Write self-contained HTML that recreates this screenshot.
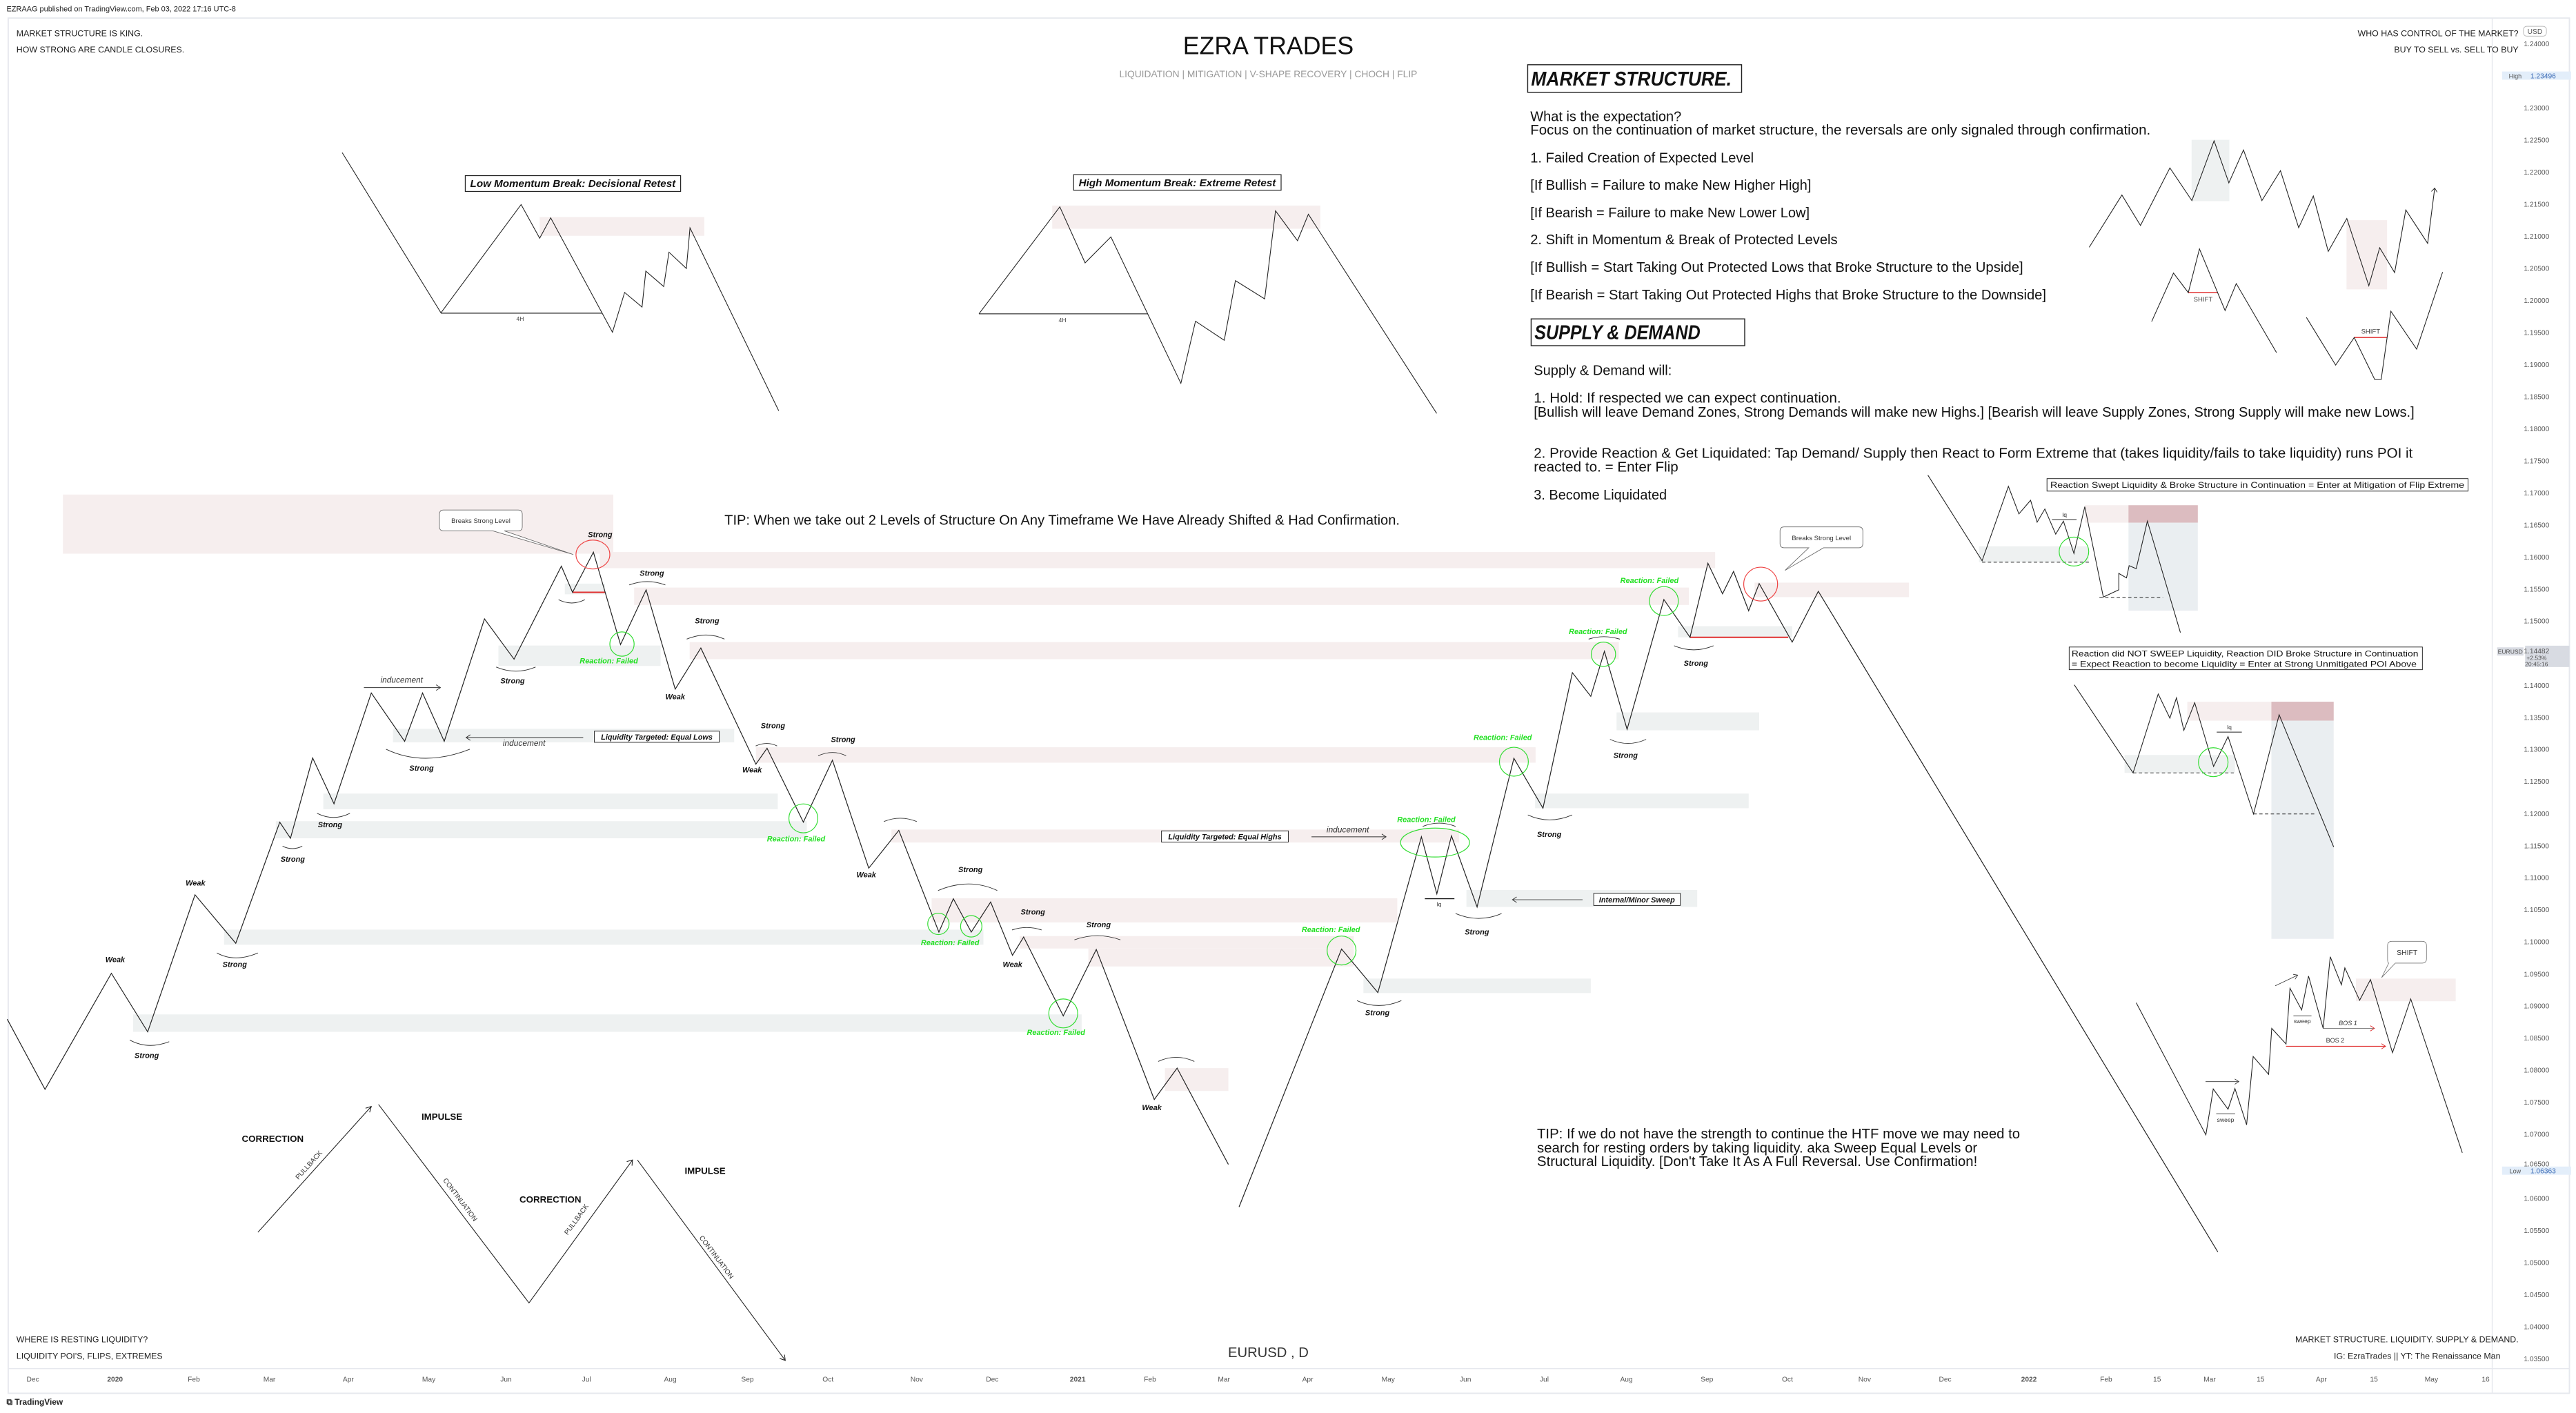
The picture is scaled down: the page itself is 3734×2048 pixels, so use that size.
<!DOCTYPE html>
<html><head><meta charset="utf-8"><style>
html,body{margin:0;padding:0;background:#fff;}
svg{display:block;}
text{font-family:"Liberation Sans",sans-serif;}
.s{font-size:4.6px;font-weight:bold;font-style:italic;fill:#111;text-anchor:middle;}
.g{font-size:4.6px;font-weight:bold;font-style:italic;fill:#22e022;text-anchor:middle;}
.ax{font-size:4.3px;fill:#555;}
.pa{font-size:4.3px;fill:#555;text-anchor:middle;}
.t{font-size:8.4px;fill:#111;}
</style></head><body>
<svg width="3734" height="2048" viewBox="0 0 1568 860" preserveAspectRatio="none" xmlns="http://www.w3.org/2000/svg">
<rect width="1568" height="860" fill="#fff"/>
<!-- frame -->
<text x="4" y="7" style="font-size:4.6px" fill="#222">EZRAAG published on TradingView.com, Feb 03, 2022 17:16 UTC-8</text>
<rect x="5" y="11" width="1559" height="837" fill="none" stroke="#e6e8ee" stroke-width="0.8"/>
<line x1="1517" y1="11" x2="1517" y2="848" stroke="#e6e8ee" stroke-width="0.6"/>
<line x1="5" y1="833" x2="1564" y2="833" stroke="#e6e8ee" stroke-width="0.6"/>

<text x="10" y="22" style="font-size:5.2px" fill="#222">MARKET STRUCTURE IS KING.</text>
<text x="10" y="32" style="font-size:5.2px" fill="#222">HOW STRONG ARE CANDLE CLOSURES.</text>
<text x="1533" y="22" style="font-size:5.2px" fill="#222" text-anchor="end">WHO HAS CONTROL OF THE MARKET?</text>
<text x="1533" y="32" style="font-size:5.2px" fill="#222" text-anchor="end">BUY TO SELL vs. SELL TO BUY</text>
<text x="10" y="817" style="font-size:5.2px" fill="#222">WHERE IS RESTING LIQUIDITY?</text>
<text x="10" y="827" style="font-size:5.2px" fill="#222">LIQUIDITY POI'S, FLIPS, EXTREMES</text>
<text x="1533" y="817" style="font-size:5.2px" fill="#222" text-anchor="end">MARKET STRUCTURE. LIQUIDITY. SUPPLY &amp; DEMAND.</text>
<text x="1522" y="827" style="font-size:5.2px" fill="#222" text-anchor="end">IG: EzraTrades || YT: The Renaissance Man</text>
<text x="772" y="826" style="font-size:8.5px" fill="#333" text-anchor="middle">EURUSD , D</text>
<text x="772" y="33" style="font-size:15px" fill="#111" text-anchor="middle">EZRA TRADES</text>
<text x="772" y="47" style="font-size:5.8px" fill="#999" text-anchor="middle">LIQUIDATION | MITIGATION | V-SHAPE RECOVERY | CHOCH | FLIP</text>
<text x="4" y="855" style="font-size:5px;font-weight:bold" fill="#222">⧉ TradingView</text>

<!-- time axis -->
<g class="ax" text-anchor="middle">
<text x="20" y="841">Dec</text><text x="70" y="841" font-weight="bold">2020</text><text x="118" y="841">Feb</text><text x="164" y="841">Mar</text><text x="212" y="841">Apr</text><text x="261" y="841">May</text><text x="308" y="841">Jun</text><text x="357" y="841">Jul</text><text x="408" y="841">Aug</text><text x="455" y="841">Sep</text><text x="504" y="841">Oct</text><text x="558" y="841">Nov</text><text x="604" y="841">Dec</text><text x="656" y="841" font-weight="bold">2021</text><text x="700" y="841">Feb</text><text x="745" y="841">Mar</text><text x="796" y="841">Apr</text><text x="845" y="841">May</text><text x="892" y="841">Jun</text><text x="940" y="841">Jul</text><text x="990" y="841">Aug</text><text x="1039" y="841">Sep</text><text x="1088" y="841">Oct</text><text x="1135" y="841">Nov</text><text x="1184" y="841">Dec</text><text x="1235" y="841" font-weight="bold">2022</text><text x="1282" y="841">Feb</text><text x="1313" y="841">15</text><text x="1345" y="841">Mar</text><text x="1376" y="841">15</text><text x="1413" y="841">Apr</text><text x="1445" y="841">15</text><text x="1480" y="841">May</text><text x="1513" y="841">16</text>
</g>

<!-- price axis -->
<g class="pa">
<rect x="1536" y="16" width="14" height="6" rx="2" fill="#fff" stroke="#bbb" stroke-width="0.4"/><text x="1543" y="20.5">USD</text>
<text x="1544" y="28.2">1.24000</text>
<rect x="1523" y="43.5" width="42" height="5" fill="#e3eefa"/><text x="1531" y="47.6" style="font-size:3.8px">High</text><text x="1548" y="47.6" fill="#3b6bb5">1.23496</text>
<text x="1544" y="67.2">1.23000</text><text x="1544" y="86.8">1.22500</text><text x="1544" y="106.3">1.22000</text><text x="1544" y="125.8">1.21500</text><text x="1544" y="145.3">1.21000</text><text x="1544" y="164.8">1.20500</text><text x="1544" y="184.3">1.20000</text><text x="1544" y="203.9">1.19500</text><text x="1544" y="223.4">1.19000</text><text x="1544" y="242.9">1.18500</text><text x="1544" y="262.4">1.18000</text><text x="1544" y="281.9">1.17500</text><text x="1544" y="301.5">1.17000</text><text x="1544" y="321">1.16500</text><text x="1544" y="340.5">1.16000</text><text x="1544" y="360">1.15500</text><text x="1544" y="379.5">1.15000</text>
<rect x="1520" y="394" width="16" height="5" fill="#d8dbe2"/><text x="1528" y="397.8" style="font-size:3.6px">EURUSD</text>
<rect x="1537" y="393" width="27" height="13" fill="#d8dbe2"/><text x="1544" y="397.6">1.14482</text><text x="1544" y="401.6" style="font-size:3.6px">+2.53%</text><text x="1544" y="405.4" style="font-size:3.6px">20:45:16</text>
<text x="1544" y="418.6">1.14000</text><text x="1544" y="438.1">1.13500</text><text x="1544" y="457.6">1.13000</text><text x="1544" y="477.1">1.12500</text><text x="1544" y="496.7">1.12000</text><text x="1544" y="516.2">1.11500</text><text x="1544" y="535.7">1.11000</text><text x="1544" y="555.2">1.10500</text><text x="1544" y="574.7">1.10000</text><text x="1544" y="594.3">1.09500</text><text x="1544" y="613.8">1.09000</text><text x="1544" y="633.3">1.08500</text><text x="1544" y="652.8">1.08000</text><text x="1544" y="672.3">1.07500</text><text x="1544" y="691.9">1.07000</text><text x="1544" y="709.8">1.06500</text>
<rect x="1523" y="710" width="42" height="5" fill="#e3eefa"/><text x="1531" y="714" style="font-size:3.8px">Low</text><text x="1548" y="714" fill="#3b6bb5">1.06363</text>
<text x="1544" y="730.9">1.06000</text><text x="1544" y="750.4">1.05500</text><text x="1544" y="769.9">1.05000</text><text x="1544" y="789.5">1.04500</text><text x="1544" y="809">1.04000</text><text x="1544" y="828.5">1.03500</text>
</g>

<!-- zones main -->
<g>
<rect x="38.3" y="301" width="335" height="36" fill="#f6eeee"/>
<rect x="365" y="336" width="679" height="9.8" fill="#f6eeee"/>
<rect x="386" y="357.6" width="642" height="10.6" fill="#f6eeee"/>
<rect x="1068" y="354.6" width="94" height="8.8" fill="#f6eeee"/>
<rect x="419.8" y="390.8" width="565.6" height="10.4" fill="#f6eeee"/>
<rect x="303.4" y="392.9" width="98.7" height="12.4" fill="#eef1f1"/>
<rect x="343.8" y="355.2" width="24.5" height="6.5" fill="#eef1f1"/>
<rect x="239.2" y="443.6" width="207.7" height="8.2" fill="#eef1f1"/>
<rect x="196.8" y="483" width="276.6" height="9.5" fill="#eef1f1"/>
<rect x="167.9" y="499.8" width="323.2" height="10.4" fill="#eef1f1"/>
<rect x="136.4" y="565.8" width="462.2" height="9.2" fill="#eef1f1"/>
<rect x="81" y="617.4" width="577.4" height="10.6" fill="#eef1f1"/>
<rect x="460.1" y="454.8" width="474.6" height="9.4" fill="#f6eeee"/>
<rect x="542.6" y="504.9" width="345.6" height="7.9" fill="#f6eeee"/>
<rect x="567.1" y="546.7" width="283.4" height="14.7" fill="#f6eeee"/>
<rect x="620.7" y="569.7" width="203.3" height="7.6" fill="#f6eeee"/>
<rect x="662.5" y="577.3" width="161.5" height="10.9" fill="#f6eeee"/>
<rect x="709.1" y="650.1" width="38.6" height="13.9" fill="#f6eeee"/>
<rect x="829.9" y="595.6" width="138.4" height="8.8" fill="#eef1f1"/>
<rect x="892.6" y="541.7" width="140.5" height="10.3" fill="#eef1f1"/>
<rect x="934.4" y="483" width="130" height="8.9" fill="#eef1f1"/>
<rect x="984" y="433.6" width="86.8" height="10.9" fill="#eef1f1"/>
<rect x="1021.4" y="381.1" width="69.5" height="6.8" fill="#eef1f1"/>
</g>
<line x1="348.5" y1="360.5" x2="368.3" y2="360.5" stroke="#e03030" stroke-width="0.8"/>
<line x1="1028.7" y1="387.9" x2="1088.5" y2="387.9" stroke="#e03030" stroke-width="0.8"/>

<!-- main line -->
<g fill="none" stroke="#222" stroke-width="0.5">
<polyline points="4.4,620.3 27.4,663 67.8,592.4 89.9,628 118.7,544.6 143.5,574.1 170.3,500.4 176.8,510.2 190.3,461.3 203.3,489.2 226,421.8 246.3,451.2 257.2,421.8 270.4,451.2 294.9,376.7 312.9,401.2 341.7,344.6 348.5,360.5 361.2,336.1 377.7,392.3 393.3,359 411,419.4 426.6,394.4 460.1,465.1 466.9,455.4 489,500.4 506.7,462.7 528.8,528.4 547.1,505.4 571.5,567.3 580.3,547 591.2,567.3 603,549 616.3,581.4 623.1,570.3 647.2,618.3 667.3,577.9 702.6,669.2 716.5,650.1 747.7,708.7"/>
<polyline points="754.2,734.6 816.6,577.6 838.7,604.1 865.2,509.3 874.6,544 883.5,508.7 899.1,552 921.5,461.5 939.2,491.9 957.1,409.4 968.3,423.8 976.6,396.4 990.4,443.9 1012.8,364.9 1028.7,387.9 1039.6,342.8 1048.5,361.4 1055.2,347.8 1064.4,371.7 1070.8,355.2 1090.9,390.8 1106.8,359.9 1350,762"/>
</g>

<!-- circles -->
<g fill="none" stroke-width="0.5">
<ellipse cx="378.6" cy="392" rx="7.4" ry="7.4" stroke="#33dd33"/>
<ellipse cx="360.9" cy="337.5" rx="10.3" ry="8.8" stroke="#ee4444"/>
<ellipse cx="489" cy="498.1" rx="8.8" ry="8.8" stroke="#33dd33"/>
<ellipse cx="571.2" cy="562.3" rx="6.5" ry="6.5" stroke="#33dd33"/>
<ellipse cx="591.2" cy="563.8" rx="6.5" ry="6.5" stroke="#33dd33"/>
<ellipse cx="647.2" cy="616.8" rx="8.8" ry="8.8" stroke="#33dd33"/>
<ellipse cx="816.6" cy="578.5" rx="8.8" ry="8.8" stroke="#33dd33"/>
<ellipse cx="873.5" cy="512.8" rx="21" ry="8.8" stroke="#33dd33"/>
<ellipse cx="921.5" cy="463.6" rx="8.8" ry="8.8" stroke="#33dd33"/>
<ellipse cx="976" cy="398.2" rx="7.4" ry="7.4" stroke="#33dd33"/>
<ellipse cx="1012.8" cy="365.8" rx="8.8" ry="8.8" stroke="#33dd33"/>
<ellipse cx="1071.7" cy="355.5" rx="10.3" ry="10.3" stroke="#ee4444"/>
</g>

<!-- arcs -->
<g fill="none" stroke="#333" stroke-width="0.4">
<path d="M79,633 Q90,639 103,634"/><path d="M132,580 Q143,586 157,580"/><path d="M172,515 Q178,518 184,515"/><path d="M193,495 Q203,500 213,495"/>
<path d="M235,456 Q258,467 286,456"/><path d="M302,406 Q314,411 326,406"/><path d="M340,365 Q348,369 356,365"/>
<path d="M383,356 Q394,352 405,356"/><path d="M418,389 Q430,384 441,389"/><path d="M460,454 Q467,451 473,454"/><path d="M498,460 Q507,456 515,460"/>
<path d="M538,500 Q548,496 558,500"/><path d="M571,542 Q590,534 607,542"/><path d="M616,566 Q625,563 634,566"/><path d="M654,572 Q668,567 682,572"/>
<path d="M705,646 Q716,641 727,646"/><path d="M826,609 Q839,615 853,609"/><path d="M866,503 Q876,499 886,503"/><path d="M886,556 Q900,562 914,556"/>
<path d="M930,496 Q943,502 957,496"/><path d="M967,389 Q976,386 986,389"/><path d="M980,450 Q991,455 1002,450"/><path d="M1019,393 Q1031,398 1043,393"/>
</g>

<!-- labels main -->
<g>
<text class="s" x="70.1" y="585.5">Weak</text><text class="s" x="89.3" y="644">Strong</text><text class="s" x="119" y="539">Weak</text><text class="s" x="142.9" y="588.5">Strong</text>
<text class="s" x="178.2" y="524.5">Strong</text><text class="s" x="200.9" y="503.5">Strong</text><text class="s" x="256.6" y="469">Strong</text><text class="s" x="312" y="416">Strong</text>
<text class="s" x="365.3" y="327">Strong</text><text class="s" x="396.8" y="350.5">Strong</text><text class="s" x="411" y="425.5">Weak</text><text class="s" x="430.4" y="379.5">Strong</text>
<text class="s" x="470.5" y="443.3">Strong</text><text class="s" x="457.8" y="470">Weak</text><text class="s" x="513.2" y="451.6">Strong</text><text class="s" x="527.3" y="534">Weak</text>
<text class="s" x="590.7" y="530.8">Strong</text><text class="s" x="628.7" y="556.7">Strong</text><text class="s" x="616.3" y="588.5">Weak</text><text class="s" x="668.7" y="564.4">Strong</text>
<text class="s" x="701.1" y="675.7">Weak</text><text class="s" x="838.4" y="618">Strong</text><text class="s" x="899" y="568.7">Strong</text><text class="s" x="943" y="509.3">Strong</text>
<text class="s" x="989.5" y="461.3">Strong</text><text class="s" x="1032.3" y="405.3">Strong</text>
<text class="g" x="370.6" y="403.8">Reaction: Failed</text><text class="g" x="484.6" y="512.2">Reaction: Failed</text><text class="g" x="578.3" y="575.3">Reaction: Failed</text>
<text class="g" x="642.8" y="629.8">Reaction: Failed</text><text class="g" x="810.1" y="567.3">Reaction: Failed</text><text class="g" x="868.2" y="500.4">Reaction: Failed</text>
<text class="g" x="914.7" y="450.4">Reaction: Failed</text><text class="g" x="972.7" y="385.9">Reaction: Failed</text><text class="g" x="1004" y="354.9">Reaction: Failed</text>
<text x="244.5" y="415.5" style="font-size:5px;font-style:italic" fill="#333" text-anchor="middle">inducement</text>
<text x="319" y="454" style="font-size:5px;font-style:italic" fill="#333" text-anchor="middle">inducement</text>
<text x="820.4" y="506.6" style="font-size:5px;font-style:italic" fill="#333" text-anchor="middle">inducement</text>
<text x="876" y="551.6" style="font-size:3.6px" fill="#333" text-anchor="middle">lq</text>
</g>
<g stroke="#333" stroke-width="0.4" fill="none">
<line x1="221.5" y1="418.5" x2="268.1" y2="418.5"/><path d="M265.5,416.8 L268.1,418.5 L265.5,420.2"/>
<line x1="355" y1="448.9" x2="283.7" y2="448.9"/><path d="M286.3,447.2 L283.7,448.9 L286.3,450.6"/>
<line x1="798.3" y1="509.3" x2="843.7" y2="509.3"/><path d="M841.1,507.6 L843.7,509.3 L841.1,511"/>
<line x1="963.3" y1="547.6" x2="920.6" y2="547.6"/><path d="M923.2,545.9 L920.6,547.6 L923.2,549.3"/>
<line x1="867.3" y1="547" x2="885.3" y2="547" stroke="#111" stroke-width="0.5"/>
</g>
<g>
<rect x="361.8" y="445" width="76" height="6.8" fill="#fff" stroke="#222" stroke-width="0.4"/><text x="399.8" y="450.2" style="font-size:4.6px;font-style:italic;font-weight:bold" text-anchor="middle" fill="#111">Liquidity Targeted: Equal Lows</text>
<rect x="707" y="505.7" width="77.2" height="6.8" fill="#fff" stroke="#222" stroke-width="0.4"/><text x="745.6" y="510.9" style="font-size:4.6px;font-style:italic;font-weight:bold" text-anchor="middle" fill="#111">Liquidity Targeted: Equal Highs</text>
<rect x="970.1" y="543.7" width="52.7" height="7.4" fill="#fff" stroke="#222" stroke-width="0.4"/><text x="996.4" y="549.2" style="font-size:4.6px;font-style:italic;font-weight:bold" text-anchor="middle" fill="#111">Internal/Minor Sweep</text>
<path d="M270,310.4 H315.4 Q317.9,310.4 317.9,313 V320.5 Q317.9,323.1 315.4,323.1 H307 L349,337.5 L300,323.1 H270 Q267.5,323.1 267.5,320.5 V313 Q267.5,310.4 270,310.4 Z" fill="#fff" stroke="#666" stroke-width="0.35"/>
<text x="292.7" y="318.4" style="font-size:4px" fill="#333" text-anchor="middle">Breaks Strong Level</text>
<path d="M1086,320.7 H1131.4 Q1133.9,320.7 1133.9,323.3 V330.8 Q1133.9,333.4 1131.4,333.4 H1110 L1086.5,347.2 L1101,333.4 H1086 Q1083.5,333.4 1083.5,330.8 V323.3 Q1083.5,320.7 1086,320.7 Z" fill="#fff" stroke="#666" stroke-width="0.35"/>
<text x="1108.7" y="328.7" style="font-size:4px" fill="#333" text-anchor="middle">Breaks Strong Level</text>
</g>

<!-- tip texts -->
<text class="t" x="441" y="319.3" textLength="411" lengthAdjust="spacingAndGlyphs">TIP: When we take out 2 Levels of Structure On Any Timeframe We Have Already Shifted &amp; Had Confirmation.</text>
<text class="t" x="935.6" y="692.8" textLength="294" lengthAdjust="spacingAndGlyphs">TIP: If we do not have the strength to continue the HTF move we may need to</text>
<text class="t" x="935.6" y="701.4" textLength="268" lengthAdjust="spacingAndGlyphs">search for resting orders by taking liquidity. aka Sweep Equal Levels or</text>
<text class="t" x="935.6" y="709.7" textLength="268" lengthAdjust="spacingAndGlyphs">Structural Liquidity. [Don't Take It As A Full Reversal. Use Confirmation!</text>

<!-- text block -->
<rect x="929.9" y="39.4" width="130.2" height="16.8" fill="#fff" stroke="#222" stroke-width="0.6"/>
<text x="932" y="52" style="font-size:12px;font-weight:bold;font-style:italic" fill="#111" textLength="122" lengthAdjust="spacingAndGlyphs">MARKET STRUCTURE.</text>
<g class="t">
<text x="931.5" y="73.6">What is the expectation?</text>
<text x="931.5" y="81.9" textLength="377.5" lengthAdjust="spacingAndGlyphs">Focus on the continuation of market structure, the reversals are only signaled through confirmation.</text>
<text x="931.5" y="98.9" textLength="136" lengthAdjust="spacingAndGlyphs">1. Failed Creation of Expected Level</text>
<text x="931.5" y="115.5" textLength="171" lengthAdjust="spacingAndGlyphs">[If Bullish = Failure to make New Higher High]</text>
<text x="931.5" y="132.3" textLength="170" lengthAdjust="spacingAndGlyphs">[If Bearish = Failure to make New Lower Low]</text>
<text x="931.5" y="148.7" textLength="187" lengthAdjust="spacingAndGlyphs">2. Shift in Momentum &amp; Break of Protected Levels</text>
<text x="931.5" y="165.5" textLength="300" lengthAdjust="spacingAndGlyphs">[If Bullish = Start Taking Out Protected Lows that Broke Structure to the Upside]</text>
<text x="931.5" y="182.3" textLength="314" lengthAdjust="spacingAndGlyphs">[If Bearish = Start Taking Out Protected Highs that Broke Structure to the Downside]</text>
</g>
<rect x="932" y="194.1" width="130" height="16.3" fill="#fff" stroke="#222" stroke-width="0.6"/>
<text x="934" y="206.3" style="font-size:12px;font-weight:bold;font-style:italic" fill="#111" textLength="101" lengthAdjust="spacingAndGlyphs">SUPPLY &amp; DEMAND</text>
<g class="t">
<text x="933.6" y="228.2" textLength="84" lengthAdjust="spacingAndGlyphs">Supply &amp; Demand will:</text>
<text x="933.6" y="245.1" textLength="187" lengthAdjust="spacingAndGlyphs">1. Hold: If respected we can expect continuation.</text>
<text x="933.6" y="253.6" textLength="536" lengthAdjust="spacingAndGlyphs">[Bullish will leave Demand Zones, Strong Demands will make new Highs.] [Bearish will leave Supply Zones, Strong Supply will make new Lows.]</text>
<text x="933.6" y="278.7" textLength="535" lengthAdjust="spacingAndGlyphs">2. Provide Reaction &amp; Get Liquidated: Tap Demand/ Supply then React to Form Extreme that (takes liquidity/fails to take liquidity) runs POI it</text>
<text x="933.6" y="287" textLength="88" lengthAdjust="spacingAndGlyphs">reacted to. = Enter Flip</text>
<text x="933.6" y="304" textLength="81" lengthAdjust="spacingAndGlyphs">3. Become Liquidated</text>
</g>

<!-- top-left sketch -->
<rect x="328.5" y="132.1" width="100.2" height="11.4" fill="#f6eeee"/>
<line x1="268.4" y1="190.6" x2="366.4" y2="190.6" stroke="#666" stroke-width="0.7"/>
<text x="316.6" y="195.2" style="font-size:3.6px" fill="#444" text-anchor="middle">4H</text>
<polyline fill="none" stroke="#222" stroke-width="0.45" points="208.3,92.9 268.4,190.4 317.2,124.5 328.5,145 335.2,132.6 372.8,202.2 380.2,178 390.8,186.9 393.1,165 404,174.4 407.2,153.5 417.8,163.4 420,138.7 474,250"/>
<rect x="283.2" y="106.9" width="131.1" height="9.6" fill="#fff" stroke="#222" stroke-width="0.5"/>
<text x="348.7" y="113.9" style="font-size:6.2px;font-weight:bold;font-style:italic" fill="#111" text-anchor="middle" textLength="125" lengthAdjust="spacingAndGlyphs">Low Momentum Break: Decisional Retest</text>

<!-- top-middle sketch -->
<rect x="640.5" y="125.1" width="163.2" height="14.1" fill="#f6eeee"/>
<line x1="595.9" y1="191" x2="698.6" y2="191" stroke="#666" stroke-width="0.7"/>
<text x="646.7" y="196" style="font-size:3.6px" fill="#444" text-anchor="middle">4H</text>
<polyline fill="none" stroke="#222" stroke-width="0.45" points="595.9,191 645.1,125.9 660.5,160 676.2,144.2 718.8,233.3 727.7,195.5 745.2,207.1 752,170.8 769.8,181.9 776.4,128.3 789.8,146.5 796.4,130.4 874.5,251.6"/>
<rect x="653.5" y="106.3" width="126.3" height="9.5" fill="#fff" stroke="#222" stroke-width="0.5"/>
<text x="716.6" y="113.3" style="font-size:6.2px;font-weight:bold;font-style:italic" fill="#111" text-anchor="middle" textLength="120" lengthAdjust="spacingAndGlyphs">High Momentum Break: Extreme Retest</text>

<!-- bottom-left impulse sketch -->
<g fill="none" stroke="#222" stroke-width="0.45">
<polyline points="157,750 226,673.4"/><path d="M222.5,674.5 L226,673.4 L225,677"/>
<polyline points="230.4,672.2 322,793 385,706"/><path d="M381.5,707 L385,706 L384.7,709.5"/>
<polyline points="388,706 478,828"/><path d="M477.5,824.5 L478,828 L474.6,826.8"/>
</g>
<g style="font-size:5.6px;font-weight:bold" fill="#111" text-anchor="middle">
<text x="166" y="695">CORRECTION</text><text x="269" y="681.5">IMPULSE</text><text x="335" y="732">CORRECTION</text><text x="429.2" y="714.5">IMPULSE</text>
</g>
<g style="font-size:4.2px" fill="#333" text-anchor="middle">
<text transform="translate(189,710) rotate(-48)">PULLBACK</text>
<text transform="translate(279,731) rotate(53)">CONTINUATION</text>
<text transform="translate(352,743) rotate(-54)">PULLBACK</text>
<text transform="translate(435,766) rotate(53)">CONTINUATION</text>
</g>

<!-- right top insets -->
<rect x="1334" y="85.1" width="23" height="37.3" fill="#eef1f1"/>
<rect x="1428.3" y="134" width="24.7" height="42.1" fill="#f6eeee"/>
<polyline fill="none" stroke="#222" stroke-width="0.45" points="1271.7,150.5 1291.6,118.7 1302.9,137.2 1320.8,102.2 1334.2,122.1 1347.7,85.7 1356.7,111.3 1365.6,91.3 1376.8,122.1 1388.1,103.9 1399.2,138.6 1408.1,119.3 1417.2,153 1428.5,133 1441.9,173.9 1448.5,150.8 1457.6,165.9 1464.4,127.8 1477.7,148.1 1482,114.5"/>
<path d="M1480,116.5 L1482,114.5 L1483.5,117" fill="none" stroke="#222" stroke-width="0.4"/>
<line x1="1332" y1="178.1" x2="1350" y2="178.1" stroke="#e03030" stroke-width="0.6"/>
<polyline fill="none" stroke="#222" stroke-width="0.45" points="1309.7,195.7 1323,166.2 1332,178.1 1338.8,151.5 1354.4,189 1361.2,172.6 1385.7,214.6"/>
<text x="1341" y="183.5" style="font-size:4px" fill="#444" text-anchor="middle">SHIFT</text>
<line x1="1433" y1="205.4" x2="1453" y2="205.4" stroke="#e03030" stroke-width="0.6"/>
<polyline fill="none" stroke="#222" stroke-width="0.45" points="1403.9,193.2 1421.7,222.2 1433,205.4 1445.5,231 1449.4,231 1455.3,189.4 1471,212.5 1486.8,165.6"/>
<text x="1443" y="203" style="font-size:4px" fill="#444" text-anchor="middle">SHIFT</text>

<!-- inset 1 -->
<rect x="1204.6" y="332.5" width="66.7" height="9.7" fill="#eef1f1"/>
<rect x="1269" y="307.5" width="68.8" height="10.6" fill="#f6eeee"/>
<rect x="1295.6" y="307.5" width="42.2" height="10.6" fill="#dcbcc0"/>
<rect x="1295.6" y="318.1" width="42.2" height="53.6" fill="#eaeef1"/>
<g stroke="#222" stroke-width="0.4" stroke-dasharray="2,1.5"><line x1="1206.5" y1="342.2" x2="1272.5" y2="342.2"/><line x1="1277.9" y1="363.7" x2="1316.6" y2="363.7"/></g>
<line x1="1249" y1="316.3" x2="1264" y2="316.3" stroke="#222" stroke-width="0.4"/>
<text x="1256.7" y="314.5" style="font-size:3.6px" fill="#333" text-anchor="middle">lq</text>
<polyline fill="none" stroke="#222" stroke-width="0.45" points="1173.5,289.2 1206.5,341.3 1222.5,296 1228.9,312.8 1236,304.5 1240,317.8 1244.7,309.8 1251.3,325.1 1256,317.2 1262.4,336.9 1269,308.4 1280.3,363.4 1289.7,359 1289.7,349 1294.4,351.7 1296,344.3 1300.3,346.1 1307.1,317.2 1327.2,385"/>
<ellipse cx="1262.4" cy="335.7" rx="9" ry="8.8" fill="none" stroke="#33dd33" stroke-width="0.5"/>
<rect x="1246" y="291.3" width="256.3" height="7.6" fill="#fff" stroke="#222" stroke-width="0.4"/>
<text x="1248" y="296.8" style="font-size:5px" fill="#111" textLength="252" lengthAdjust="spacingAndGlyphs">Reaction Swept Liquidity &amp; Broke Structure in Continuation = Enter at Mitigation of Flip Extreme</text>

<!-- inset 2 -->
<rect x="1293.2" y="459.5" width="67.2" height="10.9" fill="#eef1f1"/>
<rect x="1331.4" y="427.1" width="89.1" height="11.5" fill="#f6eeee"/>
<rect x="1382.6" y="427.1" width="37.9" height="11.5" fill="#dcbcc0"/>
<rect x="1382.6" y="438.6" width="37.9" height="132.8" fill="#eaeef1"/>
<g stroke="#222" stroke-width="0.4" stroke-dasharray="2,1.5"><line x1="1298.4" y1="470.4" x2="1359.7" y2="470.4"/><line x1="1371.7" y1="495.4" x2="1409.7" y2="495.4"/></g>
<line x1="1349.3" y1="445.6" x2="1364.6" y2="445.6" stroke="#222" stroke-width="0.4"/>
<text x="1357" y="443.8" style="font-size:3.6px" fill="#333" text-anchor="middle">lq</text>
<polyline fill="none" stroke="#222" stroke-width="0.45" points="1262.6,416.8 1298.4,470.4 1313.7,422.4 1320.8,437.1 1324.8,424.7 1329.3,444.5 1335.9,427.7 1347.4,466.5 1356.2,448.3 1371.7,495.4 1387.3,435 1420.5,515.5"/>
<ellipse cx="1347.2" cy="463.9" rx="9" ry="8.8" fill="none" stroke="#33dd33" stroke-width="0.5"/>
<rect x="1259.5" y="393.8" width="215" height="13.8" fill="#fff" stroke="#222" stroke-width="0.4"/>
<text x="1261" y="399.6" style="font-size:5px" fill="#111" textLength="211" lengthAdjust="spacingAndGlyphs">Reaction did NOT SWEEP Liquidity, Reaction DID Broke Structure in Continuation</text>
<text x="1261" y="405.8" style="font-size:5px" fill="#111" textLength="210" lengthAdjust="spacingAndGlyphs">= Expect Reaction to become Liquidity = Enter at Strong Unmitigated POI Above</text>

<!-- inset 3 -->
<rect x="1434" y="595.6" width="60.8" height="13.8" fill="#f6eeee"/>
<polyline fill="none" stroke="#222" stroke-width="0.45" points="1300.3,610.3 1342.7,690.7 1347.2,662.8 1356.2,675.1 1360.4,662.5 1367.5,684.6 1371.5,643 1380.9,653.9 1382.8,625.9 1391.5,635.4 1393.9,601.5 1401,614.7 1405.2,594.1 1414.1,625.9 1418.4,582.3 1425.2,599.4 1427.3,589.1 1436.3,608.8 1442.9,596.2 1456.3,640.7 1467.4,608 1498.8,701.6"/>
<line x1="1414.1" y1="625.9" x2="1445.3" y2="625.9" stroke="#555" stroke-width="0.35"/><path d="M1442.8,624.3 L1445.3,625.9 L1442.8,627.5" fill="none" stroke="#e03030" stroke-width="0.4"/>
<line x1="1391.5" y1="636.8" x2="1452.1" y2="636.8" stroke="#e03030" stroke-width="0.5"/><path d="M1449.6,635.2 L1452.1,636.8 L1449.6,638.4" fill="none" stroke="#e03030" stroke-width="0.4"/>
<text x="1429.2" y="624" style="font-size:3.8px;font-style:italic" fill="#333" text-anchor="middle">BOS 1</text>
<text x="1421.4" y="634.6" style="font-size:3.8px" fill="#333" text-anchor="middle">BOS 2</text>
<line x1="1396" y1="618.3" x2="1407" y2="618.3" stroke="#222" stroke-width="0.4"/><text x="1401.4" y="622.8" style="font-size:3.6px" fill="#333" text-anchor="middle">sweep</text>
<line x1="1349" y1="678" x2="1360.5" y2="678" stroke="#222" stroke-width="0.4"/><text x="1354.7" y="682.9" style="font-size:3.6px" fill="#333" text-anchor="middle">sweep</text>
<g fill="none" stroke="#333" stroke-width="0.35"><line x1="1342.5" y1="658.3" x2="1362.8" y2="658.3"/><path d="M1360.3,656.7 L1362.8,658.3 L1360.3,659.9"/><line x1="1384.9" y1="600" x2="1398.6" y2="593.5"/><path d="M1395.8,593 L1398.6,593.5 L1397,596"/></g>
<path d="M1456,572.9 H1474.3 Q1477,572.9 1477,575.6 V583.5 Q1477,586.2 1474.3,586.2 H1458 L1449.7,595 L1454,586.2 Q1453.3,586.2 1453.3,583.5 V575.6 Q1453.3,572.9 1456,572.9 Z" fill="#fff" stroke="#777" stroke-width="0.35"/>
<text x="1465.2" y="581.2" style="font-size:4.4px" fill="#333" text-anchor="middle">SHIFT</text>
</svg>
</body></html>
